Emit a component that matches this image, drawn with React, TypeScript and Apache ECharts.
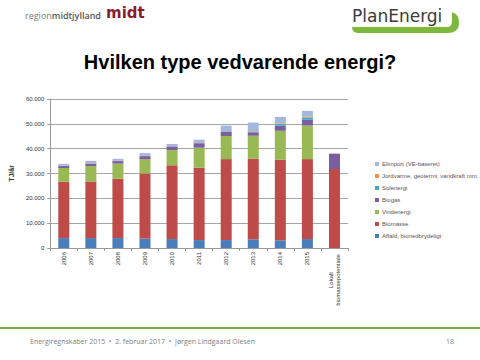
import React, { useEffect, useRef } from "react";
import * as echarts from "echarts";

const categories = ["2006", "2007", "2008", "2009", "2010", "2011", "2012", "2013", "2014", "2015", "Lokalt\nbiomassepotentiale"];
const affald = [4000, 4000, 4000, 3800, 3600, 3200, 3200, 3500, 3100, 3600, 0];
const biomasse = [22700, 22800, 23900, 26200, 29700, 29100, 32600, 32500, 32400, 32200, 31800];
const vindenergi = [5500, 6200, 6100, 5800, 6100, 8100, 9300, 9200, 11700, 13500, 0];
const biogas = [800, 1000, 1000, 1200, 1500, 1800, 1700, 1400, 2000, 2300, 6200];
const solenergi = [0, 0, 0, 0, 0, 0, 200, 300, 700, 1000, 0];
const jordvarme = [100, 100, 100, 100, 100, 100, 100, 200, 300, 400, 0];
const elimport = [800, 1000, 800, 1100, 900, 1300, 2200, 3400, 2600, 2200, 0];
const yTicks = { min: 0, max: 60000, interval: 10000 };

const seriesDefs = [
  { name: "Affald, bionedbrydeligt", data: affald, color: "#4A7EBB" },
  { name: "Biomasse", data: biomasse, color: "#BE4B48" },
  { name: "Vindenergi", data: vindenergi, color: "#98B954" },
  { name: "Biogas", data: biogas, color: "#7A5E9F" },
  { name: "Solenergi", data: solenergi, color: "#46AAC5" },
  { name: "Jordvarme, geotermi, vandkraft mm.", data: jordvarme, color: "#F69240" },
  { name: "Elimport (VE-baseret)", data: elimport, color: "#A3B7E0" },
];

const swoosh =
  "M352,27 L447,27 Q452,27 452,21 L452,12 Q459,14 459,23 Q459,33 447,33 L359,33 Q352,33 352,27 Z";
echarts.graphic.registerShape("swoosh", echarts.graphic.extendPath(swoosh, {}) as any);

export default function App() {
  const ref = useRef<HTMLDivElement>(null);
  useEffect(() => {
    document.body.style.margin = "0";
    const chart = echarts.init(ref.current!, null, { renderer: "svg" });
    const fmt = (v: number) => (v === 0 ? "0" : String(v / 1000) + ".000");
    chart.setOption({
      animation: false,
      backgroundColor: "#ffffff",
      textStyle: { fontFamily: "Liberation Sans, Arial, sans-serif" },
      grid: { left: 45, right: 132, top: 99, bottom: 112, containLabel: false },
      legend: {
        orient: "vertical",
        left: 370,
        top: 155,
        itemWidth: 4,
        itemHeight: 4,
        itemGap: 4,
        icon: "rect",
        textStyle: { fontSize: 6, color: "#555", lineHeight: 8, padding: [0, 0, 0, -2] },
        data: seriesDefs.map((s) => s.name).reverse(),
      },
      xAxis: {
        type: "category",
        data: categories.map((c, i) =>
          i === categories.length - 1
            ? { value: c, textStyle: { align: "center", padding: [0, 56, 0, 0] } }
            : c
        ),
        axisLine: { lineStyle: { color: "#999" } },
        axisTick: { show: true, length: 3, lineStyle: { color: "#999" } },
        axisLabel: { rotate: 90, fontSize: 6, color: "#333", interval: 0, margin: 4, lineHeight: 7 },
      },
      yAxis: {
        type: "value",
        min: yTicks.min,
        max: yTicks.max,
        interval: yTicks.interval,
        name: "TJ/år",
        nameLocation: "middle",
        nameGap: 29,
        nameRotate: 90,
        nameTextStyle: { fontSize: 7, fontWeight: "bold", color: "#333" },
        axisLine: { show: true, lineStyle: { color: "#999" } },
        axisTick: { show: true, length: 3, lineStyle: { color: "#999" } },
        axisLabel: { fontSize: 6, color: "#333", margin: 6, formatter: fmt },
        splitLine: { lineStyle: { color: "#a6a6a6", width: 1 } },
      },
      series: seriesDefs.map((s) => ({
        name: s.name,
        type: "bar",
        stack: "total",
        data: s.data,
        barWidth: 11,
        itemStyle: { color: s.color },
      })),
      graphic: [
        {
          type: "text",
          left: 25,
          top: 11,
          style: {
            text: "{a|region}{b|midtjylland}",
            rich: {
              a: { fontSize: 9, fill: "#7a7a7a", fontFamily: "Open Sans, sans-serif" },
              b: { fontSize: 9, fill: "#555", fontWeight: 600, fontFamily: "Open Sans, sans-serif" },
            },
          },
        },
        {
          type: "text",
          left: 106,
          top: 5,
          style: { text: "midt", fontSize: 15, fontWeight: 900, fill: "#8A1B2E", fontFamily: "DejaVu Sans, sans-serif" },
        },
        { type: "swoosh", x: 0, y: 0, style: { fill: "#7DB83D" } },
        {
          type: "text",
          left: 352,
          top: 7,
          style: { text: "PlanEnergi", fontSize: 17, fill: "#3a3a3a", fontFamily: "DejaVu Sans, sans-serif" },
        },
        {
          type: "text",
          left: "center",
          top: 52,
          style: {
            text: "Hvilken type vedvarende energi?",
            fontSize: 20,
            fontWeight: "bold",
            fill: "#000",
            fontFamily: "Liberation Sans, sans-serif",
          },
        },
        { type: "rect", shape: { x: 0, y: 327, width: 480, height: 2 }, style: { fill: "#77A843" } },
        {
          type: "text",
          left: 30,
          top: 338,
          style: {
            text: "Energiregnskaber 2015  •  2. februar 2017  •  Jørgen Lindgaard Olesen",
            fontSize: 7,
            fill: "#7f7f7f",
            fontFamily: "Open Sans, sans-serif",
          },
        },
        {
          type: "text",
          left: 446,
          top: 338,
          style: { text: "18", fontSize: 7, fill: "#7f7f7f", fontFamily: "Open Sans, sans-serif" },
        },
      ],
    });
    return () => chart.dispose();
  }, []);
  return <div ref={ref} style={{ width: 480, height: 360 }} />;
}
